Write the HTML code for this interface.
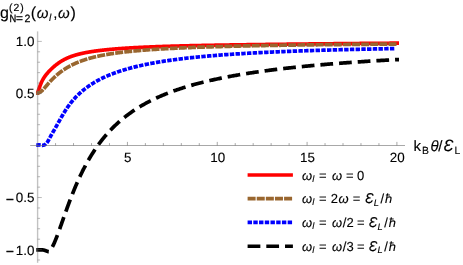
<!DOCTYPE html>
<html><head><meta charset="utf-8"><title>g2 plot</title>
<style>
html,body{margin:0;padding:0;background:#fff;}
body{width:463px;height:265px;overflow:hidden;font-family:"Liberation Sans",sans-serif;}
text{stroke:#000;stroke-width:0.12px;}
svg{display:block;font-family:"Liberation Sans",sans-serif;will-change:transform;text-rendering:geometricPrecision;}
</style></head><body>
<svg width="463" height="265" viewBox="0 0 463 265">
<rect width="463" height="265" fill="#ffffff"/>

<path d="M36.30,93.10 L37.60,93.10 L37.85,92.16 L38.10,91.31 L38.35,90.53 L38.60,89.79 L38.85,89.09 L39.10,88.40 L39.35,87.71 L39.60,87.03 L39.85,86.36 L40.10,85.69 L40.35,85.04 L40.60,84.40 L40.85,83.78 L41.10,83.18 L41.35,82.60 L41.60,82.04 L41.85,81.49 L42.10,80.97 L42.35,80.48 L42.60,80.00 L42.85,79.54 L43.10,79.10 L43.35,78.68 L43.60,78.27 L43.85,77.87 L44.10,77.48 L44.35,77.11 L44.60,76.75 L44.85,76.39 L45.10,76.04 L45.35,75.71 L45.60,75.38 L45.85,75.05 L46.10,74.73 L46.35,74.42 L46.60,74.11 L46.85,73.81 L47.10,73.51 L47.35,73.22 L47.60,72.93 L47.85,72.64 L48.10,72.36 L48.35,72.08 L48.60,71.80 L48.85,71.53 L49.10,71.26 L49.35,70.99 L49.60,70.73 L49.85,70.47 L50.10,70.21 L50.35,69.96 L50.60,69.71 L50.85,69.46 L51.10,69.22 L51.35,68.97 L51.60,68.73 L51.85,68.50 L52.10,68.26 L52.35,68.03 L52.60,67.80 L52.85,67.57 L53.10,67.35 L53.35,67.13 L53.60,66.91 L53.85,66.69 L54.10,66.48 L54.35,66.26 L54.60,66.05 L54.85,65.85 L55.10,65.64 L55.35,65.44 L55.60,65.23 L55.85,65.04 L56.10,64.84 L56.35,64.64 L56.60,64.45 L56.85,64.26 L57.10,64.07 L57.35,63.88 L57.60,63.70 L57.85,63.51 L58.10,63.33 L58.35,63.16 L58.60,62.98 L58.85,62.80 L59.10,62.63 L59.35,62.46 L59.60,62.29 L59.85,62.13 L60.10,61.96 L60.35,61.80 L60.60,61.64 L60.85,61.49 L61.10,61.33 L61.35,61.18 L61.60,61.02 L61.85,60.87 L62.10,60.73 L62.35,60.58 L62.60,60.44 L62.85,60.29 L63.10,60.15 L63.35,60.01 L63.60,59.88 L63.85,59.74 L64.10,59.61 L64.35,59.48 L64.60,59.35 L64.85,59.22 L65.10,59.09 L65.35,58.97 L65.60,58.84 L65.85,58.72 L66.10,58.60 L66.35,58.48 L66.60,58.37 L66.85,58.25 L67.10,58.14 L67.35,58.03 L67.60,57.91 L67.85,57.80 L68.10,57.70 L68.35,57.59 L68.60,57.49 L68.85,57.38 L69.10,57.28 L69.35,57.18 L69.60,57.08 L69.85,56.98 L70.10,56.88 L70.35,56.79 L70.60,56.69 L70.85,56.60 L71.10,56.51 L71.35,56.42 L71.60,56.33 L71.85,56.24 L72.10,56.15 L72.35,56.06 L72.60,55.98 L72.85,55.89 L73.10,55.81 L73.35,55.73 L73.60,55.65 L73.85,55.57 L74.10,55.49 L74.35,55.41 L74.60,55.33 L74.85,55.26 L75.10,55.18 L75.35,55.11 L75.60,55.03 L75.85,54.96 L76.10,54.89 L76.35,54.82 L76.60,54.75 L76.85,54.68 L77.10,54.61 L77.35,54.54 L77.60,54.47 L77.85,54.41 L78.10,54.34 L78.35,54.28 L78.60,54.21 L78.85,54.15 L79.10,54.09 L79.35,54.02 L79.60,53.96 L79.85,53.90 L80.10,53.84 L80.35,53.78 L80.60,53.72 L80.85,53.66 L81.10,53.61 L81.35,53.55 L81.60,53.49 L81.85,53.44 L82.10,53.38 L82.35,53.32 L82.60,53.27 L82.85,53.22 L83.10,53.16 L83.35,53.11 L83.60,53.06 L83.85,53.01 L84.10,52.95 L84.35,52.90 L84.60,52.85 L84.85,52.80 L85.10,52.75 L85.35,52.71 L85.60,52.66 L85.85,52.61 L86.10,52.56 L86.35,52.51 L86.60,52.47 L86.85,52.42 L87.10,52.38 L87.35,52.33 L87.60,52.28 L87.85,52.24 L88.10,52.20 L88.35,52.15 L88.60,52.11 L88.85,52.07 L89.10,52.02 L89.35,51.98 L89.60,51.94 L89.85,51.90 L90.10,51.86 L90.35,51.81 L90.60,51.77 L90.85,51.73 L91.10,51.69 L91.35,51.65 L91.60,51.61 L91.85,51.58 L92.10,51.54 L92.35,51.50 L92.60,51.46 L92.85,51.42 L93.10,51.39 L93.35,51.35 L93.60,51.31 L93.85,51.28 L94.10,51.24 L94.35,51.20 L94.60,51.17 L94.85,51.13 L95.10,51.10 L95.35,51.06 L95.60,51.03 L95.85,50.99 L96.10,50.96 L96.35,50.93 L96.60,50.89 L96.85,50.86 L97.10,50.83 L97.35,50.79 L97.60,50.76 L97.85,50.73 L98.10,50.70 L98.35,50.67 L98.60,50.63 L98.85,50.60 L99.10,50.57 L99.35,50.54 L99.60,50.51 L99.85,50.48 L100.10,50.45 L100.35,50.42 L100.60,50.39 L100.85,50.36 L101.10,50.33 L101.35,50.30 L101.60,50.27 L101.85,50.24 L102.10,50.22 L102.35,50.19 L102.60,50.16 L102.85,50.13 L103.10,50.10 L103.35,50.08 L103.60,50.05 L103.85,50.02 L104.10,49.99 L104.35,49.97 L104.60,49.94 L104.85,49.91 L105.10,49.89 L105.35,49.86 L105.60,49.84 L105.85,49.81 L106.10,49.79 L106.35,49.76 L106.60,49.73 L106.85,49.71 L107.10,49.68 L107.35,49.66 L107.60,49.63 L107.85,49.61 L108.10,49.59 L108.35,49.56 L108.60,49.54 L108.85,49.51 L109.10,49.49 L109.35,49.47 L109.60,49.44 L109.85,49.42 L110.10,49.40 L110.35,49.37 L110.60,49.35 L110.85,49.33 L111.10,49.31 L111.35,49.28 L111.60,49.26 L111.85,49.24 L112.10,49.22 L112.35,49.20 L112.60,49.17 L112.85,49.15 L113.10,49.13 L113.35,49.11 L113.60,49.09 L113.85,49.07 L114.10,49.05 L114.35,49.02 L114.60,49.00 L114.85,48.98 L115.10,48.96 L115.35,48.94 L115.60,48.92 L115.85,48.90 L116.10,48.88 L116.35,48.86 L116.60,48.84 L116.85,48.82 L117.10,48.80 L117.35,48.78 L117.60,48.76 L117.85,48.75 L118.10,48.73 L118.35,48.71 L118.60,48.69 L118.85,48.67 L119.10,48.65 L119.35,48.63 L119.60,48.61 L119.85,48.60 L120.10,48.58 L120.35,48.56 L120.60,48.54 L120.85,48.52 L121.10,48.50 L121.35,48.49 L121.60,48.47 L121.85,48.45 L122.10,48.43 L122.35,48.42 L122.60,48.40 L122.85,48.38 L123.10,48.37 L123.35,48.35 L123.60,48.33 L123.85,48.31 L124.10,48.30 L124.35,48.28 L124.60,48.26 L124.85,48.25 L125.10,48.23 L125.35,48.22 L125.60,48.20 L125.85,48.18 L126.10,48.17 L126.35,48.15 L126.60,48.13 L126.85,48.12 L127.10,48.10 L127.35,48.09 L127.60,48.07 L127.85,48.06 L128.10,48.04 L128.35,48.03 L128.60,48.01 L128.85,48.00 L129.10,47.98 L129.35,47.97 L129.60,47.95 L129.85,47.94 L130.00,47.93 L131.00,47.87 L132.00,47.81 L133.00,47.75 L134.00,47.70 L135.00,47.64 L136.00,47.59 L137.00,47.54 L138.00,47.49 L139.00,47.44 L140.00,47.39 L141.00,47.34 L142.00,47.29 L143.00,47.25 L144.00,47.20 L145.00,47.15 L146.00,47.11 L147.00,47.07 L148.00,47.02 L149.00,46.98 L150.00,46.94 L151.00,46.90 L152.00,46.86 L153.00,46.82 L154.00,46.78 L155.00,46.74 L156.00,46.71 L157.00,46.67 L158.00,46.63 L159.00,46.60 L160.00,46.56 L161.00,46.53 L162.00,46.49 L163.00,46.46 L164.00,46.43 L165.00,46.39 L166.00,46.36 L167.00,46.33 L168.00,46.30 L169.00,46.27 L170.00,46.24 L171.00,46.21 L172.00,46.18 L173.00,46.15 L174.00,46.12 L175.00,46.09 L176.00,46.07 L177.00,46.04 L178.00,46.01 L179.00,45.99 L180.00,45.96 L181.00,45.93 L182.00,45.91 L183.00,45.88 L184.00,45.86 L185.00,45.83 L186.00,45.81 L187.00,45.78 L188.00,45.76 L189.00,45.74 L190.00,45.71 L191.00,45.69 L192.00,45.67 L193.00,45.65 L194.00,45.63 L195.00,45.60 L196.00,45.58 L197.00,45.56 L198.00,45.54 L199.00,45.52 L200.00,45.50 L201.00,45.48 L202.00,45.46 L203.00,45.44 L204.00,45.42 L205.00,45.40 L206.00,45.38 L207.00,45.36 L208.00,45.34 L209.00,45.33 L210.00,45.31 L211.00,45.29 L212.00,45.27 L213.00,45.25 L214.00,45.24 L215.00,45.22 L216.00,45.20 L217.00,45.18 L218.00,45.17 L219.00,45.15 L220.00,45.13 L221.00,45.12 L222.00,45.10 L223.00,45.08 L224.00,45.07 L225.00,45.05 L226.00,45.04 L227.00,45.02 L228.00,45.00 L229.00,44.99 L230.00,44.97 L231.00,44.96 L232.00,44.94 L233.00,44.93 L234.00,44.91 L235.00,44.90 L236.00,44.88 L237.00,44.87 L238.00,44.85 L239.00,44.84 L240.00,44.82 L241.00,44.81 L242.00,44.79 L243.00,44.78 L244.00,44.77 L245.00,44.75 L246.00,44.74 L247.00,44.72 L248.00,44.71 L249.00,44.70 L250.00,44.68 L251.00,44.67 L252.00,44.66 L253.00,44.64 L254.00,44.63 L255.00,44.61 L256.00,44.60 L257.00,44.59 L258.00,44.57 L259.00,44.56 L260.00,44.55 L261.00,44.54 L262.00,44.52 L263.00,44.51 L264.00,44.50 L265.00,44.48 L266.00,44.47 L267.00,44.46 L268.00,44.45 L269.00,44.43 L270.00,44.42 L271.00,44.41 L272.00,44.40 L273.00,44.38 L274.00,44.37 L275.00,44.36 L276.00,44.35 L277.00,44.34 L278.00,44.32 L279.00,44.31 L280.00,44.30 L281.00,44.29 L282.00,44.28 L283.00,44.26 L284.00,44.25 L285.00,44.24 L286.00,44.23 L287.00,44.22 L288.00,44.20 L289.00,44.19 L290.00,44.18 L291.00,44.17 L292.00,44.16 L293.00,44.15 L294.00,44.14 L295.00,44.13 L296.00,44.11 L297.00,44.10 L298.00,44.09 L299.00,44.08 L300.00,44.07 L301.00,44.06 L302.00,44.05 L303.00,44.04 L304.00,44.03 L305.00,44.01 L306.00,44.00 L307.00,43.99 L308.00,43.98 L309.00,43.97 L310.00,43.96 L311.00,43.95 L312.00,43.94 L313.00,43.93 L314.00,43.92 L315.00,43.91 L316.00,43.90 L317.00,43.89 L318.00,43.88 L319.00,43.87 L320.00,43.86 L321.00,43.85 L322.00,43.84 L323.00,43.83 L324.00,43.82 L325.00,43.81 L326.00,43.80 L327.00,43.79 L328.00,43.78 L329.00,43.77 L330.00,43.76 L331.00,43.75 L332.00,43.74 L333.00,43.73 L334.00,43.72 L335.00,43.71 L336.00,43.70 L337.00,43.69 L338.00,43.68 L339.00,43.67 L340.00,43.66 L341.00,43.65 L342.00,43.64 L343.00,43.63 L344.00,43.62 L345.00,43.61 L346.00,43.60 L347.00,43.59 L348.00,43.58 L349.00,43.57 L350.00,43.57 L351.00,43.56 L352.00,43.55 L353.00,43.54 L354.00,43.53 L355.00,43.52 L356.00,43.51 L357.00,43.50 L358.00,43.49 L359.00,43.48 L360.00,43.47 L361.00,43.47 L362.00,43.46 L363.00,43.45 L364.00,43.44 L365.00,43.43 L366.00,43.42 L367.00,43.41 L368.00,43.40 L369.00,43.40 L370.00,43.39 L371.00,43.38 L372.00,43.37 L373.00,43.36 L374.00,43.35 L375.00,43.34 L376.00,43.34 L377.00,43.33 L378.00,43.32 L379.00,43.31 L380.00,43.30 L381.00,43.29 L382.00,43.29 L383.00,43.28 L384.00,43.27 L385.00,43.26 L386.00,43.25 L387.00,43.24 L388.00,43.24 L389.00,43.23 L390.00,43.22 L391.00,43.21 L392.00,43.20 L393.00,43.20 L394.00,43.19 L395.00,43.18 L396.00,43.17 L397.00,43.16 L398.00,43.16 L399.00,43.16" fill="none" stroke="#ff0000" stroke-width="3.7"/>
<path d="M36.30,93.10 L37.60,93.10 L37.85,93.11 L38.10,93.07 L38.35,92.99 L38.60,92.89 L38.85,92.76 L39.10,92.63 L39.35,92.50 L39.60,92.36 L39.85,92.21 L40.10,92.06 L40.35,91.90 L40.60,91.73 L40.85,91.56 L41.10,91.37 L41.35,91.18 L41.60,90.98 L41.85,90.76 L42.10,90.54 L42.35,90.30 L42.60,90.06 L42.85,89.81 L43.10,89.55 L43.35,89.28 L43.60,89.01 L43.85,88.74 L44.10,88.46 L44.35,88.18 L44.60,87.89 L44.85,87.61 L45.10,87.32 L45.35,87.03 L45.60,86.73 L45.85,86.44 L46.10,86.15 L46.35,85.86 L46.60,85.57 L46.85,85.28 L47.10,84.98 L47.35,84.69 L47.60,84.41 L47.85,84.12 L48.10,83.83 L48.35,83.55 L48.60,83.27 L48.85,82.98 L49.10,82.70 L49.35,82.43 L49.60,82.15 L49.85,81.88 L50.10,81.60 L50.35,81.33 L50.60,81.06 L50.85,80.80 L51.10,80.53 L51.35,80.27 L51.60,80.01 L51.85,79.75 L52.10,79.50 L52.35,79.24 L52.60,78.99 L52.85,78.74 L53.10,78.49 L53.35,78.24 L53.60,78.00 L53.85,77.76 L54.10,77.52 L54.35,77.28 L54.60,77.05 L54.85,76.81 L55.10,76.58 L55.35,76.35 L55.60,76.12 L55.85,75.90 L56.10,75.67 L56.35,75.45 L56.60,75.23 L56.85,75.02 L57.10,74.80 L57.35,74.59 L57.60,74.38 L57.85,74.17 L58.10,73.96 L58.35,73.75 L58.60,73.55 L58.85,73.35 L59.10,73.15 L59.35,72.95 L59.60,72.75 L59.85,72.56 L60.10,72.37 L60.35,72.18 L60.60,71.99 L60.85,71.80 L61.10,71.61 L61.35,71.43 L61.60,71.25 L61.85,71.07 L62.10,70.89 L62.35,70.71 L62.60,70.54 L62.85,70.36 L63.10,70.19 L63.35,70.02 L63.60,69.85 L63.85,69.68 L64.10,69.52 L64.35,69.35 L64.60,69.19 L64.85,69.03 L65.10,68.87 L65.35,68.71 L65.60,68.55 L65.85,68.39 L66.10,68.24 L66.35,68.09 L66.60,67.93 L66.85,67.78 L67.10,67.63 L67.35,67.49 L67.60,67.34 L67.85,67.19 L68.10,67.05 L68.35,66.91 L68.60,66.77 L68.85,66.63 L69.10,66.49 L69.35,66.35 L69.60,66.21 L69.85,66.08 L70.10,65.94 L70.35,65.81 L70.60,65.68 L70.85,65.55 L71.10,65.42 L71.35,65.29 L71.60,65.16 L71.85,65.03 L72.10,64.91 L72.35,64.78 L72.60,64.66 L72.85,64.54 L73.10,64.42 L73.35,64.30 L73.60,64.18 L73.85,64.06 L74.10,63.94 L74.35,63.83 L74.60,63.71 L74.85,63.60 L75.10,63.48 L75.35,63.37 L75.60,63.26 L75.85,63.15 L76.10,63.04 L76.35,62.93 L76.60,62.83 L76.85,62.72 L77.10,62.61 L77.35,62.51 L77.60,62.40 L77.85,62.30 L78.10,62.20 L78.35,62.10 L78.60,62.00 L78.85,61.90 L79.10,61.80 L79.35,61.70 L79.60,61.60 L79.85,61.51 L80.10,61.41 L80.35,61.32 L80.60,61.22 L80.85,61.13 L81.10,61.04 L81.35,60.94 L81.60,60.85 L81.85,60.76 L82.10,60.67 L82.35,60.58 L82.60,60.50 L82.85,60.41 L83.10,60.32 L83.35,60.24 L83.60,60.15 L83.85,60.07 L84.10,59.98 L84.35,59.90 L84.60,59.82 L84.85,59.73 L85.10,59.65 L85.35,59.57 L85.60,59.49 L85.85,59.41 L86.10,59.33 L86.35,59.26 L86.60,59.18 L86.85,59.10 L87.10,59.02 L87.35,58.95 L87.60,58.87 L87.85,58.80 L88.10,58.73 L88.35,58.65 L88.60,58.58 L88.85,58.51 L89.10,58.44 L89.35,58.36 L89.60,58.29 L89.85,58.22 L90.10,58.15 L90.35,58.08 L90.60,58.02 L90.85,57.95 L91.10,57.88 L91.35,57.81 L91.60,57.75 L91.85,57.68 L92.10,57.62 L92.35,57.55 L92.60,57.49 L92.85,57.42 L93.10,57.36 L93.35,57.30 L93.60,57.23 L93.85,57.17 L94.10,57.11 L94.35,57.05 L94.60,56.99 L94.85,56.93 L95.10,56.87 L95.35,56.81 L95.60,56.75 L95.85,56.69 L96.10,56.63 L96.35,56.57 L96.60,56.52 L96.85,56.46 L97.10,56.40 L97.35,56.35 L97.60,56.29 L97.85,56.23 L98.10,56.18 L98.35,56.12 L98.60,56.07 L98.85,56.02 L99.10,55.96 L99.35,55.91 L99.60,55.86 L99.85,55.80 L100.10,55.75 L100.35,55.70 L100.60,55.65 L100.85,55.60 L101.10,55.55 L101.35,55.50 L101.60,55.45 L101.85,55.40 L102.10,55.35 L102.35,55.30 L102.60,55.25 L102.85,55.20 L103.10,55.16 L103.35,55.11 L103.60,55.06 L103.85,55.01 L104.10,54.97 L104.35,54.92 L104.60,54.87 L104.85,54.83 L105.10,54.78 L105.35,54.74 L105.60,54.69 L105.85,54.65 L106.10,54.60 L106.35,54.56 L106.60,54.52 L106.85,54.47 L107.10,54.43 L107.35,54.39 L107.60,54.34 L107.85,54.30 L108.10,54.26 L108.35,54.22 L108.60,54.18 L108.85,54.14 L109.10,54.09 L109.35,54.05 L109.60,54.01 L109.85,53.97 L110.10,53.93 L110.35,53.89 L110.60,53.85 L110.85,53.81 L111.10,53.78 L111.35,53.74 L111.60,53.70 L111.85,53.66 L112.10,53.62 L112.35,53.58 L112.60,53.55 L112.85,53.51 L113.10,53.47 L113.35,53.44 L113.60,53.40 L113.85,53.36 L114.10,53.33 L114.35,53.29 L114.60,53.25 L114.85,53.22 L115.10,53.18 L115.35,53.15 L115.60,53.11 L115.85,53.08 L116.10,53.04 L116.35,53.01 L116.60,52.98 L116.85,52.94 L117.10,52.91 L117.35,52.87 L117.60,52.84 L117.85,52.81 L118.10,52.78 L118.35,52.74 L118.60,52.71 L118.85,52.68 L119.10,52.65 L119.35,52.61 L119.60,52.58 L119.85,52.55 L120.10,52.52 L120.35,52.49 L120.60,52.46 L120.85,52.42 L121.10,52.39 L121.35,52.36 L121.60,52.33 L121.85,52.30 L122.10,52.27 L122.35,52.24 L122.60,52.21 L122.85,52.18 L123.10,52.15 L123.35,52.12 L123.60,52.09 L123.85,52.07 L124.10,52.04 L124.35,52.01 L124.60,51.98 L124.85,51.95 L125.10,51.92 L125.35,51.89 L125.60,51.87 L125.85,51.84 L126.10,51.81 L126.35,51.78 L126.60,51.76 L126.85,51.73 L127.10,51.70 L127.35,51.67 L127.60,51.65 L127.85,51.62 L128.10,51.59 L128.35,51.57 L128.60,51.54 L128.85,51.52 L129.10,51.49 L129.35,51.46 L129.60,51.44 L129.85,51.41 L130.00,51.40 L131.00,51.30 L132.00,51.20 L133.00,51.10 L134.00,51.00 L135.00,50.91 L136.00,50.82 L137.00,50.73 L138.00,50.64 L139.00,50.55 L140.00,50.47 L141.00,50.38 L142.00,50.30 L143.00,50.22 L144.00,50.14 L145.00,50.06 L146.00,49.99 L147.00,49.91 L148.00,49.84 L149.00,49.77 L150.00,49.70 L151.00,49.62 L152.00,49.56 L153.00,49.49 L154.00,49.42 L155.00,49.35 L156.00,49.29 L157.00,49.23 L158.00,49.16 L159.00,49.10 L160.00,49.04 L161.00,48.98 L162.00,48.92 L163.00,48.86 L164.00,48.81 L165.00,48.75 L166.00,48.69 L167.00,48.64 L168.00,48.58 L169.00,48.53 L170.00,48.48 L171.00,48.43 L172.00,48.38 L173.00,48.33 L174.00,48.28 L175.00,48.23 L176.00,48.18 L177.00,48.13 L178.00,48.08 L179.00,48.04 L180.00,47.99 L181.00,47.95 L182.00,47.90 L183.00,47.86 L184.00,47.81 L185.00,47.77 L186.00,47.73 L187.00,47.69 L188.00,47.65 L189.00,47.61 L190.00,47.57 L191.00,47.53 L192.00,47.49 L193.00,47.45 L194.00,47.41 L195.00,47.37 L196.00,47.33 L197.00,47.30 L198.00,47.26 L199.00,47.22 L200.00,47.19 L201.00,47.15 L202.00,47.12 L203.00,47.08 L204.00,47.05 L205.00,47.02 L206.00,46.98 L207.00,46.95 L208.00,46.92 L209.00,46.89 L210.00,46.85 L211.00,46.82 L212.00,46.79 L213.00,46.76 L214.00,46.73 L215.00,46.70 L216.00,46.67 L217.00,46.64 L218.00,46.61 L219.00,46.58 L220.00,46.55 L221.00,46.53 L222.00,46.50 L223.00,46.47 L224.00,46.44 L225.00,46.42 L226.00,46.39 L227.00,46.36 L228.00,46.34 L229.00,46.31 L230.00,46.29 L231.00,46.26 L232.00,46.24 L233.00,46.21 L234.00,46.19 L235.00,46.16 L236.00,46.14 L237.00,46.12 L238.00,46.09 L239.00,46.07 L240.00,46.05 L241.00,46.02 L242.00,46.00 L243.00,45.98 L244.00,45.96 L245.00,45.93 L246.00,45.91 L247.00,45.89 L248.00,45.87 L249.00,45.85 L250.00,45.83 L251.00,45.81 L252.00,45.79 L253.00,45.77 L254.00,45.75 L255.00,45.73 L256.00,45.71 L257.00,45.69 L258.00,45.67 L259.00,45.65 L260.00,45.63 L261.00,45.61 L262.00,45.59 L263.00,45.57 L264.00,45.56 L265.00,45.54 L266.00,45.52 L267.00,45.50 L268.00,45.48 L269.00,45.47 L270.00,45.45 L271.00,45.43 L272.00,45.42 L273.00,45.40 L274.00,45.38 L275.00,45.37 L276.00,45.35 L277.00,45.33 L278.00,45.32 L279.00,45.30 L280.00,45.29 L281.00,45.27 L282.00,45.25 L283.00,45.24 L284.00,45.22 L285.00,45.21 L286.00,45.19 L287.00,45.18 L288.00,45.16 L289.00,45.15 L290.00,45.13 L291.00,45.12 L292.00,45.11 L293.00,45.09 L294.00,45.08 L295.00,45.06 L296.00,45.05 L297.00,45.04 L298.00,45.02 L299.00,45.01 L300.00,45.00 L301.00,44.98 L302.00,44.97 L303.00,44.96 L304.00,44.94 L305.00,44.93 L306.00,44.92 L307.00,44.91 L308.00,44.89 L309.00,44.88 L310.00,44.87 L311.00,44.86 L312.00,44.84 L313.00,44.83 L314.00,44.82 L315.00,44.81 L316.00,44.80 L317.00,44.79 L318.00,44.77 L319.00,44.76 L320.00,44.75 L321.00,44.74 L322.00,44.73 L323.00,44.72 L324.00,44.71 L325.00,44.70 L326.00,44.69 L327.00,44.67 L328.00,44.66 L329.00,44.65 L330.00,44.64 L331.00,44.63 L332.00,44.62 L333.00,44.61 L334.00,44.60 L335.00,44.59 L336.00,44.58 L337.00,44.57 L338.00,44.56 L339.00,44.55 L340.00,44.54 L341.00,44.53 L342.00,44.52 L343.00,44.51 L344.00,44.50 L345.00,44.49 L346.00,44.48 L347.00,44.48 L348.00,44.47 L349.00,44.46 L350.00,44.45 L351.00,44.44 L352.00,44.43 L353.00,44.42 L354.00,44.41 L355.00,44.40 L356.00,44.39 L357.00,44.39 L358.00,44.38 L359.00,44.37 L360.00,44.36 L361.00,44.35 L362.00,44.34 L363.00,44.34 L364.00,44.33 L365.00,44.32 L366.00,44.31 L367.00,44.30 L368.00,44.29 L369.00,44.29 L370.00,44.28 L371.00,44.27 L372.00,44.26 L373.00,44.26 L374.00,44.25 L375.00,44.24 L376.00,44.23 L377.00,44.22 L378.00,44.22 L379.00,44.21 L380.00,44.20 L381.00,44.19 L382.00,44.19 L383.00,44.18 L384.00,44.17 L385.00,44.17 L386.00,44.16 L387.00,44.15 L388.00,44.14 L389.00,44.14 L390.00,44.13 L391.00,44.12 L392.00,44.12 L393.00,44.11 L394.00,44.10 L395.00,44.10 L396.00,44.09 L397.00,44.08 L397.20,44.08" fill="none" stroke="#99662f" stroke-width="3.7" stroke-dasharray="8.01 1.11"/>
<path d="M36.30,145.10 L37.60,145.10 L37.85,144.98 L38.10,144.90 L38.35,144.86 L38.60,144.84 L38.85,144.85 L39.10,144.88 L39.35,144.91 L39.60,144.96 L39.85,145.01 L40.10,145.06 L40.35,145.12 L40.60,145.17 L40.85,145.21 L41.10,145.26 L41.35,145.29 L41.60,145.31 L41.85,145.33 L42.10,145.34 L42.35,145.33 L42.60,145.32 L42.85,145.29 L43.10,145.25 L43.35,145.19 L43.60,145.13 L43.85,145.05 L44.10,144.96 L44.35,144.86 L44.60,144.74 L44.85,144.60 L45.10,144.45 L45.35,144.27 L45.60,144.08 L45.85,143.87 L46.10,143.63 L46.35,143.37 L46.60,143.10 L46.85,142.79 L47.10,142.47 L47.35,142.13 L47.60,141.76 L47.85,141.37 L48.10,140.95 L48.35,140.53 L48.60,140.08 L48.85,139.63 L49.10,139.16 L49.35,138.69 L49.60,138.22 L49.85,137.75 L50.10,137.27 L50.35,136.80 L50.60,136.33 L50.85,135.87 L51.10,135.41 L51.35,134.96 L51.60,134.51 L51.85,134.07 L52.10,133.63 L52.35,133.20 L52.60,132.77 L52.85,132.33 L53.10,131.90 L53.35,131.48 L53.60,131.05 L53.85,130.62 L54.10,130.19 L54.35,129.76 L54.60,129.33 L54.85,128.90 L55.10,128.46 L55.35,128.03 L55.60,127.59 L55.85,127.15 L56.10,126.71 L56.35,126.26 L56.60,125.82 L56.85,125.37 L57.10,124.92 L57.35,124.47 L57.60,124.01 L57.85,123.56 L58.10,123.10 L58.35,122.65 L58.60,122.19 L58.85,121.74 L59.10,121.28 L59.35,120.83 L59.60,120.38 L59.85,119.93 L60.10,119.48 L60.35,119.03 L60.60,118.59 L60.85,118.14 L61.10,117.70 L61.35,117.26 L61.60,116.82 L61.85,116.39 L62.10,115.96 L62.35,115.53 L62.60,115.10 L62.85,114.68 L63.10,114.25 L63.35,113.84 L63.60,113.42 L63.85,113.01 L64.10,112.60 L64.35,112.20 L64.60,111.79 L64.85,111.40 L65.10,111.00 L65.35,110.61 L65.60,110.22 L65.85,109.83 L66.10,109.45 L66.35,109.07 L66.60,108.70 L66.85,108.33 L67.10,107.96 L67.35,107.59 L67.60,107.23 L67.85,106.87 L68.10,106.52 L68.35,106.17 L68.60,105.82 L68.85,105.48 L69.10,105.13 L69.35,104.80 L69.60,104.46 L69.85,104.13 L70.10,103.80 L70.35,103.48 L70.60,103.15 L70.85,102.83 L71.10,102.52 L71.35,102.21 L71.60,101.90 L71.85,101.59 L72.10,101.29 L72.35,100.99 L72.60,100.69 L72.85,100.39 L73.10,100.10 L73.35,99.81 L73.60,99.53 L73.85,99.24 L74.10,98.96 L74.35,98.69 L74.60,98.41 L74.85,98.14 L75.10,97.87 L75.35,97.60 L75.60,97.33 L75.85,97.07 L76.10,96.81 L76.35,96.55 L76.60,96.30 L76.85,96.04 L77.10,95.79 L77.35,95.54 L77.60,95.29 L77.85,95.05 L78.10,94.81 L78.35,94.57 L78.60,94.33 L78.85,94.09 L79.10,93.86 L79.35,93.62 L79.60,93.39 L79.85,93.16 L80.10,92.94 L80.35,92.71 L80.60,92.49 L80.85,92.27 L81.10,92.05 L81.35,91.83 L81.60,91.61 L81.85,91.40 L82.10,91.18 L82.35,90.97 L82.60,90.76 L82.85,90.56 L83.10,90.35 L83.35,90.14 L83.60,89.94 L83.85,89.74 L84.10,89.54 L84.35,89.34 L84.60,89.14 L84.85,88.95 L85.10,88.75 L85.35,88.56 L85.60,88.37 L85.85,88.18 L86.10,87.99 L86.35,87.80 L86.60,87.62 L86.85,87.43 L87.10,87.25 L87.35,87.07 L87.60,86.89 L87.85,86.71 L88.10,86.53 L88.35,86.35 L88.60,86.18 L88.85,86.00 L89.10,85.83 L89.35,85.66 L89.60,85.48 L89.85,85.31 L90.10,85.15 L90.35,84.98 L90.60,84.81 L90.85,84.65 L91.10,84.48 L91.35,84.32 L91.60,84.16 L91.85,84.00 L92.10,83.84 L92.35,83.68 L92.60,83.52 L92.85,83.37 L93.10,83.21 L93.35,83.06 L93.60,82.90 L93.85,82.75 L94.10,82.60 L94.35,82.45 L94.60,82.30 L94.85,82.15 L95.10,82.01 L95.35,81.86 L95.60,81.71 L95.85,81.57 L96.10,81.43 L96.35,81.28 L96.60,81.14 L96.85,81.00 L97.10,80.86 L97.35,80.72 L97.60,80.59 L97.85,80.45 L98.10,80.31 L98.35,80.18 L98.60,80.05 L98.85,79.91 L99.10,79.78 L99.35,79.65 L99.60,79.52 L99.85,79.39 L100.10,79.26 L100.35,79.13 L100.60,79.00 L100.85,78.88 L101.10,78.75 L101.35,78.63 L101.60,78.50 L101.85,78.38 L102.10,78.26 L102.35,78.14 L102.60,78.01 L102.85,77.89 L103.10,77.77 L103.35,77.66 L103.60,77.54 L103.85,77.42 L104.10,77.30 L104.35,77.19 L104.60,77.07 L104.85,76.96 L105.10,76.85 L105.35,76.73 L105.60,76.62 L105.85,76.51 L106.10,76.40 L106.35,76.29 L106.60,76.18 L106.85,76.07 L107.10,75.96 L107.35,75.86 L107.60,75.75 L107.85,75.64 L108.10,75.54 L108.35,75.43 L108.60,75.33 L108.85,75.22 L109.10,75.12 L109.35,75.02 L109.60,74.92 L109.85,74.82 L110.10,74.72 L110.35,74.62 L110.60,74.52 L110.85,74.42 L111.10,74.32 L111.35,74.22 L111.60,74.12 L111.85,74.03 L112.10,73.93 L112.35,73.84 L112.60,73.74 L112.85,73.65 L113.10,73.55 L113.35,73.46 L113.60,73.36 L113.85,73.27 L114.10,73.18 L114.35,73.09 L114.60,73.00 L114.85,72.91 L115.10,72.82 L115.35,72.73 L115.60,72.64 L115.85,72.55 L116.10,72.46 L116.35,72.37 L116.60,72.29 L116.85,72.20 L117.10,72.11 L117.35,72.03 L117.60,71.94 L117.85,71.86 L118.10,71.77 L118.35,71.69 L118.60,71.60 L118.85,71.52 L119.10,71.44 L119.35,71.36 L119.60,71.27 L119.85,71.19 L120.10,71.11 L120.35,71.03 L120.60,70.95 L120.85,70.87 L121.10,70.79 L121.35,70.71 L121.60,70.63 L121.85,70.55 L122.10,70.47 L122.35,70.40 L122.60,70.32 L122.85,70.24 L123.10,70.16 L123.35,70.09 L123.60,70.01 L123.85,69.94 L124.10,69.86 L124.35,69.79 L124.60,69.71 L124.85,69.64 L125.10,69.56 L125.35,69.49 L125.60,69.42 L125.85,69.34 L126.10,69.27 L126.35,69.20 L126.60,69.13 L126.85,69.05 L127.10,68.98 L127.35,68.91 L127.60,68.84 L127.85,68.77 L128.10,68.70 L128.35,68.63 L128.60,68.56 L128.85,68.49 L129.10,68.43 L129.35,68.36 L129.60,68.29 L129.85,68.22 L130.00,68.18 L131.00,67.91 L132.00,67.65 L133.00,67.39 L134.00,67.14 L135.00,66.89 L136.00,66.65 L137.00,66.41 L138.00,66.17 L139.00,65.94 L140.00,65.71 L141.00,65.49 L142.00,65.27 L143.00,65.05 L144.00,64.84 L145.00,64.63 L146.00,64.42 L147.00,64.22 L148.00,64.02 L149.00,63.82 L150.00,63.63 L151.00,63.43 L152.00,63.25 L153.00,63.06 L154.00,62.88 L155.00,62.70 L156.00,62.52 L157.00,62.35 L158.00,62.18 L159.00,62.01 L160.00,61.84 L161.00,61.68 L162.00,61.52 L163.00,61.36 L164.00,61.20 L165.00,61.04 L166.00,60.89 L167.00,60.74 L168.00,60.59 L169.00,60.45 L170.00,60.30 L171.00,60.16 L172.00,60.02 L173.00,59.88 L174.00,59.75 L175.00,59.61 L176.00,59.48 L177.00,59.35 L178.00,59.22 L179.00,59.09 L180.00,58.97 L181.00,58.85 L182.00,58.72 L183.00,58.60 L184.00,58.49 L185.00,58.37 L186.00,58.25 L187.00,58.14 L188.00,58.03 L189.00,57.91 L190.00,57.81 L191.00,57.70 L192.00,57.59 L193.00,57.48 L194.00,57.38 L195.00,57.28 L196.00,57.18 L197.00,57.08 L198.00,56.98 L199.00,56.88 L200.00,56.78 L201.00,56.69 L202.00,56.59 L203.00,56.50 L204.00,56.41 L205.00,56.32 L206.00,56.23 L207.00,56.14 L208.00,56.05 L209.00,55.96 L210.00,55.88 L211.00,55.79 L212.00,55.71 L213.00,55.63 L214.00,55.55 L215.00,55.47 L216.00,55.39 L217.00,55.31 L218.00,55.23 L219.00,55.15 L220.00,55.08 L221.00,55.00 L222.00,54.93 L223.00,54.85 L224.00,54.78 L225.00,54.71 L226.00,54.64 L227.00,54.57 L228.00,54.50 L229.00,54.43 L230.00,54.36 L231.00,54.29 L232.00,54.23 L233.00,54.16 L234.00,54.10 L235.00,54.03 L236.00,53.97 L237.00,53.90 L238.00,53.84 L239.00,53.78 L240.00,53.72 L241.00,53.66 L242.00,53.60 L243.00,53.54 L244.00,53.48 L245.00,53.42 L246.00,53.36 L247.00,53.31 L248.00,53.25 L249.00,53.19 L250.00,53.14 L251.00,53.08 L252.00,53.03 L253.00,52.98 L254.00,52.92 L255.00,52.87 L256.00,52.82 L257.00,52.77 L258.00,52.72 L259.00,52.66 L260.00,52.61 L261.00,52.56 L262.00,52.52 L263.00,52.47 L264.00,52.42 L265.00,52.37 L266.00,52.32 L267.00,52.28 L268.00,52.23 L269.00,52.18 L270.00,52.14 L271.00,52.09 L272.00,52.05 L273.00,52.00 L274.00,51.96 L275.00,51.92 L276.00,51.87 L277.00,51.83 L278.00,51.79 L279.00,51.75 L280.00,51.70 L281.00,51.66 L282.00,51.62 L283.00,51.58 L284.00,51.54 L285.00,51.50 L286.00,51.46 L287.00,51.42 L288.00,51.38 L289.00,51.34 L290.00,51.31 L291.00,51.27 L292.00,51.23 L293.00,51.19 L294.00,51.16 L295.00,51.12 L296.00,51.08 L297.00,51.05 L298.00,51.01 L299.00,50.98 L300.00,50.94 L301.00,50.91 L302.00,50.87 L303.00,50.84 L304.00,50.80 L305.00,50.77 L306.00,50.74 L307.00,50.70 L308.00,50.67 L309.00,50.64 L310.00,50.61 L311.00,50.57 L312.00,50.54 L313.00,50.51 L314.00,50.48 L315.00,50.45 L316.00,50.42 L317.00,50.39 L318.00,50.36 L319.00,50.33 L320.00,50.30 L321.00,50.27 L322.00,50.24 L323.00,50.21 L324.00,50.18 L325.00,50.15 L326.00,50.12 L327.00,50.09 L328.00,50.07 L329.00,50.04 L330.00,50.01 L331.00,49.98 L332.00,49.96 L333.00,49.93 L334.00,49.90 L335.00,49.87 L336.00,49.85 L337.00,49.82 L338.00,49.80 L339.00,49.77 L340.00,49.74 L341.00,49.72 L342.00,49.69 L343.00,49.67 L344.00,49.64 L345.00,49.62 L346.00,49.59 L347.00,49.57 L348.00,49.54 L349.00,49.52 L350.00,49.50 L351.00,49.47 L352.00,49.45 L353.00,49.43 L354.00,49.40 L355.00,49.38 L356.00,49.36 L357.00,49.33 L358.00,49.31 L359.00,49.29 L360.00,49.27 L361.00,49.24 L362.00,49.22 L363.00,49.20 L364.00,49.18 L365.00,49.16 L366.00,49.14 L367.00,49.11 L368.00,49.09 L369.00,49.07 L370.00,49.05 L371.00,49.03 L372.00,49.01 L373.00,48.99 L374.00,48.97 L375.00,48.95 L376.00,48.93 L377.00,48.91 L378.00,48.89 L379.00,48.87 L380.00,48.85 L381.00,48.83 L382.00,48.81 L383.00,48.79 L384.00,48.77 L385.00,48.75 L386.00,48.73 L387.00,48.72 L388.00,48.70 L389.00,48.68 L390.00,48.66 L391.00,48.64 L392.00,48.62 L393.00,48.61 L394.00,48.59 L394.30,48.58" fill="none" stroke="#0000ff" stroke-width="3.7" stroke-dasharray="4.41 1.312"/>
<path d="M36.30,249.85 L36.50,249.85 L36.70,249.85 L36.90,249.85 L37.10,249.85 L37.30,249.85 L37.50,249.85 L37.70,249.85 L37.90,249.85 L38.10,249.85 L38.30,249.85 L38.50,249.85 L38.70,249.85 L38.90,249.85 L39.10,249.85 L39.30,249.85 L39.50,249.85 L39.70,249.85 L39.90,249.85 L40.10,249.85 L40.30,249.85 L40.50,249.85 L40.70,249.85 L40.90,249.85 L41.10,249.85 L41.30,249.85 L41.50,249.85 L41.70,249.85 L41.90,249.86 L42.10,249.87 L42.30,249.88 L42.50,249.90 L42.70,249.92 L42.90,249.94 L43.10,249.96 L43.30,249.99 L43.50,250.03 L43.70,250.08 L43.90,250.13 L44.10,250.19 L44.30,250.24 L44.50,250.30 L44.70,250.36 L44.90,250.42 L45.10,250.49 L45.30,250.55 L45.50,250.62 L45.70,250.69 L45.90,250.76 L46.10,250.84 L46.30,250.91 L46.50,250.99 L46.70,251.07 L46.90,251.14 L47.10,251.22 L47.30,251.29 L47.50,251.35 L47.70,251.41 L47.90,251.48 L48.10,251.55 L48.30,251.61 L48.50,251.65 L48.70,251.69 L48.90,251.70 L49.10,251.68 L49.30,251.63 L49.50,251.55 L49.70,251.45 L49.90,251.28 L50.10,251.01 L50.30,250.70 L50.50,250.31 L50.70,249.84 L50.90,249.40 L51.10,249.02 L51.30,248.65 L51.50,248.30 L51.70,247.97 L51.90,247.66 L52.10,247.37 L52.15,247.30 L52.40,246.85 L52.65,246.38 L52.90,245.89 L53.15,245.39 L53.40,244.87 L53.65,244.34 L53.90,243.80 L54.15,243.24 L54.40,242.67 L54.65,242.09 L54.90,241.50 L55.15,240.90 L55.40,240.30 L55.65,239.68 L55.90,239.05 L56.15,238.42 L56.40,237.78 L56.65,237.13 L56.90,236.48 L57.15,235.82 L57.40,235.16 L57.65,234.49 L57.90,233.82 L58.15,233.14 L58.40,232.46 L58.65,231.78 L58.90,231.09 L59.15,230.40 L59.40,229.70 L59.65,229.01 L59.90,228.31 L60.15,227.61 L60.40,226.91 L60.65,226.21 L60.90,225.50 L61.15,224.80 L61.40,224.09 L61.65,223.38 L61.90,222.67 L62.15,221.97 L62.40,221.26 L62.65,220.55 L62.90,219.84 L63.15,219.14 L63.40,218.43 L63.65,217.72 L63.90,217.01 L64.15,216.31 L64.40,215.60 L64.65,214.90 L64.90,214.20 L65.15,213.50 L65.40,212.80 L65.65,212.10 L65.90,211.40 L66.15,210.70 L66.40,210.01 L66.65,209.32 L66.90,208.63 L67.15,207.94 L67.40,207.25 L67.65,206.57 L67.90,205.89 L68.15,205.21 L68.40,204.53 L68.65,203.85 L68.90,203.18 L69.15,202.51 L69.40,201.84 L69.65,201.18 L69.90,200.52 L70.15,199.86 L70.40,199.20 L70.65,198.55 L70.90,197.90 L71.15,197.25 L71.40,196.61 L71.65,195.97 L71.90,195.33 L72.15,194.70 L72.40,194.06 L72.65,193.44 L72.90,192.81 L73.15,192.19 L73.40,191.57 L73.65,190.95 L73.90,190.34 L74.15,189.73 L74.40,189.13 L74.65,188.52 L74.90,187.92 L75.15,187.33 L75.40,186.73 L75.65,186.14 L75.90,185.56 L76.15,184.98 L76.40,184.40 L76.65,183.82 L76.90,183.24 L77.15,182.67 L77.40,182.11 L77.65,181.54 L77.90,180.98 L78.15,180.43 L78.40,179.87 L78.65,179.32 L78.90,178.77 L79.15,178.23 L79.40,177.69 L79.65,177.15 L79.90,176.61 L80.15,176.08 L80.40,175.55 L80.65,175.03 L80.90,174.51 L81.15,173.99 L81.40,173.47 L81.65,172.96 L81.90,172.45 L82.15,171.94 L82.40,171.44 L82.65,170.93 L82.90,170.44 L83.15,169.94 L83.40,169.45 L83.65,168.96 L83.90,168.47 L84.15,167.99 L84.40,167.51 L84.65,167.03 L84.90,166.56 L85.15,166.09 L85.40,165.62 L85.65,165.15 L85.90,164.69 L86.15,164.23 L86.40,163.77 L86.65,163.31 L86.90,162.86 L87.15,162.41 L87.40,161.96 L87.65,161.52 L87.90,161.08 L88.15,160.64 L88.40,160.20 L88.65,159.77 L88.90,159.34 L89.15,158.91 L89.40,158.48 L89.65,158.06 L89.90,157.64 L90.15,157.22 L90.40,156.80 L90.65,156.39 L90.90,155.98 L91.15,155.57 L91.40,155.16 L91.65,154.76 L91.90,154.35 L92.15,153.96 L92.40,153.56 L92.65,153.16 L92.90,152.77 L93.15,152.38 L93.40,151.99 L93.65,151.61 L93.90,151.23 L94.15,150.84 L94.40,150.47 L94.65,150.09 L94.90,149.72 L95.15,149.34 L95.40,148.97 L95.65,148.61 L95.90,148.24 L96.15,147.88 L96.40,147.52 L96.65,147.16 L96.90,146.80 L97.15,146.44 L97.40,146.09 L97.65,145.74 L97.90,145.39 L98.15,145.04 L98.40,144.70 L98.65,144.36 L98.90,144.02 L99.15,143.68 L99.40,143.34 L99.65,143.00 L99.90,142.67 L100.15,142.34 L100.40,142.01 L100.65,141.68 L100.90,141.36 L101.15,141.03 L101.40,140.71 L101.65,140.39 L101.90,140.07 L102.15,139.75 L102.40,139.44 L102.65,139.13 L102.90,138.82 L103.15,138.51 L103.40,138.20 L103.65,137.89 L103.90,137.59 L104.15,137.28 L104.40,136.98 L104.65,136.68 L104.90,136.39 L105.15,136.09 L105.40,135.79 L105.65,135.50 L105.90,135.21 L106.15,134.92 L106.40,134.63 L106.65,134.35 L106.90,134.06 L107.15,133.78 L107.40,133.50 L107.65,133.21 L107.90,132.94 L108.15,132.66 L108.40,132.38 L108.65,132.11 L108.90,131.84 L109.15,131.56 L109.40,131.29 L109.65,131.02 L109.90,130.76 L110.15,130.49 L110.40,130.23 L110.65,129.96 L110.90,129.70 L111.15,129.44 L111.40,129.18 L111.65,128.93 L111.90,128.67 L112.15,128.42 L112.40,128.16 L112.65,127.91 L112.90,127.66 L113.15,127.41 L113.40,127.16 L113.65,126.91 L113.90,126.67 L114.15,126.43 L114.40,126.18 L114.65,125.94 L114.90,125.70 L115.15,125.46 L115.40,125.22 L115.65,124.99 L115.90,124.75 L116.15,124.51 L116.40,124.28 L116.65,124.05 L116.90,123.82 L117.15,123.59 L117.40,123.36 L117.65,123.13 L117.90,122.91 L118.15,122.68 L118.40,122.46 L118.65,122.23 L118.90,122.01 L119.15,121.79 L119.40,121.57 L119.65,121.35 L119.90,121.14 L120.15,120.92 L120.40,120.70 L120.65,120.49 L120.90,120.28 L121.15,120.06 L121.40,119.85 L121.65,119.64 L121.90,119.43 L122.15,119.23 L122.40,119.02 L122.65,118.81 L122.90,118.61 L123.15,118.40 L123.40,118.20 L123.65,118.00 L123.90,117.80 L124.15,117.60 L124.40,117.40 L124.65,117.20 L124.90,117.00 L125.15,116.81 L125.40,116.61 L125.65,116.42 L125.90,116.22 L126.15,116.03 L126.40,115.84 L126.65,115.65 L126.90,115.46 L127.15,115.27 L127.40,115.08 L127.65,114.89 L127.90,114.71 L128.15,114.52 L128.40,114.34 L128.65,114.15 L128.90,113.97 L129.15,113.79 L129.40,113.60 L129.65,113.42 L129.90,113.24 L130.00,113.17 L131.00,112.46 L132.00,111.77 L133.00,111.08 L134.00,110.41 L135.00,109.75 L136.00,109.10 L137.00,108.47 L138.00,107.84 L139.00,107.22 L140.00,106.62 L141.00,106.03 L142.00,105.44 L143.00,104.87 L144.00,104.30 L145.00,103.74 L146.00,103.20 L147.00,102.66 L148.00,102.13 L149.00,101.61 L150.00,101.10 L151.00,100.59 L152.00,100.10 L153.00,99.61 L154.00,99.13 L155.00,98.65 L156.00,98.18 L157.00,97.73 L158.00,97.27 L159.00,96.83 L160.00,96.39 L161.00,95.95 L162.00,95.53 L163.00,95.11 L164.00,94.69 L165.00,94.28 L166.00,93.88 L167.00,93.49 L168.00,93.09 L169.00,92.71 L170.00,92.33 L171.00,91.95 L172.00,91.58 L173.00,91.22 L174.00,90.86 L175.00,90.50 L176.00,90.15 L177.00,89.81 L178.00,89.47 L179.00,89.13 L180.00,88.80 L181.00,88.47 L182.00,88.15 L183.00,87.83 L184.00,87.51 L185.00,87.20 L186.00,86.90 L187.00,86.59 L188.00,86.29 L189.00,86.00 L190.00,85.70 L191.00,85.42 L192.00,85.13 L193.00,84.85 L194.00,84.57 L195.00,84.30 L196.00,84.02 L197.00,83.76 L198.00,83.49 L199.00,83.23 L200.00,82.97 L201.00,82.71 L202.00,82.46 L203.00,82.21 L204.00,81.96 L205.00,81.72 L206.00,81.48 L207.00,81.24 L208.00,81.00 L209.00,80.77 L210.00,80.54 L211.00,80.31 L212.00,80.08 L213.00,79.86 L214.00,79.64 L215.00,79.42 L216.00,79.20 L217.00,78.99 L218.00,78.78 L219.00,78.57 L220.00,78.36 L221.00,78.16 L222.00,77.95 L223.00,77.75 L224.00,77.55 L225.00,77.36 L226.00,77.16 L227.00,76.97 L228.00,76.78 L229.00,76.59 L230.00,76.40 L231.00,76.22 L232.00,76.03 L233.00,75.85 L234.00,75.67 L235.00,75.49 L236.00,75.32 L237.00,75.14 L238.00,74.97 L239.00,74.80 L240.00,74.63 L241.00,74.46 L242.00,74.30 L243.00,74.13 L244.00,73.97 L245.00,73.81 L246.00,73.65 L247.00,73.49 L248.00,73.33 L249.00,73.17 L250.00,73.02 L251.00,72.87 L252.00,72.71 L253.00,72.56 L254.00,72.42 L255.00,72.27 L256.00,72.12 L257.00,71.98 L258.00,71.83 L259.00,71.69 L260.00,71.55 L261.00,71.41 L262.00,71.27 L263.00,71.13 L264.00,71.00 L265.00,70.86 L266.00,70.73 L267.00,70.60 L268.00,70.46 L269.00,70.33 L270.00,70.20 L271.00,70.08 L272.00,69.95 L273.00,69.82 L274.00,69.70 L275.00,69.57 L276.00,69.45 L277.00,69.33 L278.00,69.21 L279.00,69.09 L280.00,68.97 L281.00,68.85 L282.00,68.73 L283.00,68.62 L284.00,68.50 L285.00,68.39 L286.00,68.27 L287.00,68.16 L288.00,68.05 L289.00,67.94 L290.00,67.83 L291.00,67.72 L292.00,67.61 L293.00,67.50 L294.00,67.40 L295.00,67.29 L296.00,67.18 L297.00,67.08 L298.00,66.98 L299.00,66.87 L300.00,66.77 L301.00,66.67 L302.00,66.57 L303.00,66.47 L304.00,66.37 L305.00,66.27 L306.00,66.18 L307.00,66.08 L308.00,65.98 L309.00,65.89 L310.00,65.79 L311.00,65.70 L312.00,65.61 L313.00,65.51 L314.00,65.42 L315.00,65.33 L316.00,65.24 L317.00,65.15 L318.00,65.06 L319.00,64.97 L320.00,64.88 L321.00,64.79 L322.00,64.71 L323.00,64.62 L324.00,64.54 L325.00,64.45 L326.00,64.37 L327.00,64.28 L328.00,64.20 L329.00,64.12 L330.00,64.03 L331.00,63.95 L332.00,63.87 L333.00,63.79 L334.00,63.71 L335.00,63.63 L336.00,63.55 L337.00,63.47 L338.00,63.39 L339.00,63.32 L340.00,63.24 L341.00,63.16 L342.00,63.09 L343.00,63.01 L344.00,62.94 L345.00,62.86 L346.00,62.79 L347.00,62.72 L348.00,62.64 L349.00,62.57 L350.00,62.50 L351.00,62.43 L352.00,62.35 L353.00,62.28 L354.00,62.21 L355.00,62.14 L356.00,62.07 L357.00,62.00 L358.00,61.94 L359.00,61.87 L360.00,61.80 L361.00,61.73 L362.00,61.67 L363.00,61.60 L364.00,61.53 L365.00,61.47 L366.00,61.40 L367.00,61.34 L368.00,61.27 L369.00,61.21 L370.00,61.14 L371.00,61.08 L372.00,61.02 L373.00,60.96 L374.00,60.89 L375.00,60.83 L376.00,60.77 L377.00,60.71 L378.00,60.65 L379.00,60.59 L380.00,60.53 L381.00,60.47 L382.00,60.41 L383.00,60.35 L384.00,60.29 L385.00,60.23 L386.00,60.17 L387.00,60.12 L388.00,60.06 L389.00,60.00 L390.00,59.94 L391.00,59.89 L392.00,59.83 L393.00,59.78 L394.00,59.72 L395.00,59.66 L396.00,59.61 L397.00,59.56 L398.00,59.56 L399.00,59.56" fill="none" stroke-linejoin="round" stroke="#000000" stroke-width="3.7" stroke-dasharray="12.74 6.32 12.74 6.32 12.74 5.97 12.74 5.97 12.74 5.97 12.74 5.97 12.74 5.97 12.74 5.97 12.74 5.97 12.74 5.97 12.74 5.97 12.74 5.97 12.74 5.97 12.74 5.97 12.74 5.97 12.74 5.97 12.74 5.97 12.74 5.97 12.74 5.97 12.74 5.97 12.74 5.97 12.74 5.97 12.74 5.97 12.74 5.97 12.74 5.97 12.74 5.97 12.74 5.97 12.74 5.97 12.74 5.97 12.74 5.97"/>

<g stroke="#666666" stroke-opacity="0.57" stroke-width="1" fill="none"><line x1="30.2" y1="145.5" x2="405" y2="145.5"/><line x1="37.6" y1="31.4" x2="37.6" y2="262.8" stroke-opacity="0.4" stroke-width="1.4"/><line x1="55.56" y1="145.5" x2="55.56" y2="143.1"/><line x1="73.53" y1="145.5" x2="73.53" y2="143.1"/><line x1="91.50" y1="145.5" x2="91.50" y2="143.1"/><line x1="109.46" y1="145.5" x2="109.46" y2="143.1"/><line x1="127.43" y1="145.5" x2="127.43" y2="141.9"/><line x1="145.39" y1="145.5" x2="145.39" y2="143.1"/><line x1="163.35" y1="145.5" x2="163.35" y2="143.1"/><line x1="181.32" y1="145.5" x2="181.32" y2="143.1"/><line x1="199.28" y1="145.5" x2="199.28" y2="143.1"/><line x1="217.25" y1="145.5" x2="217.25" y2="141.9"/><line x1="235.22" y1="145.5" x2="235.22" y2="143.1"/><line x1="253.18" y1="145.5" x2="253.18" y2="143.1"/><line x1="271.14" y1="145.5" x2="271.14" y2="143.1"/><line x1="289.11" y1="145.5" x2="289.11" y2="143.1"/><line x1="307.08" y1="145.5" x2="307.08" y2="141.9"/><line x1="325.04" y1="145.5" x2="325.04" y2="143.1"/><line x1="343.00" y1="145.5" x2="343.00" y2="143.1"/><line x1="360.97" y1="145.5" x2="360.97" y2="143.1"/><line x1="378.94" y1="145.5" x2="378.94" y2="143.1"/><line x1="396.90" y1="145.5" x2="396.90" y2="141.9"/><line x1="37.6" y1="260.01" x2="40.1" y2="260.01" stroke-opacity="0.5" stroke-width="0.9"/><line x1="37.6" y1="249.60" x2="41.800000000000004" y2="249.60" stroke-opacity="0.5" stroke-width="0.9"/><line x1="37.6" y1="239.19" x2="40.1" y2="239.19" stroke-opacity="0.5" stroke-width="0.9"/><line x1="37.6" y1="228.78" x2="40.1" y2="228.78" stroke-opacity="0.5" stroke-width="0.9"/><line x1="37.6" y1="218.37" x2="40.1" y2="218.37" stroke-opacity="0.5" stroke-width="0.9"/><line x1="37.6" y1="207.96" x2="40.1" y2="207.96" stroke-opacity="0.5" stroke-width="0.9"/><line x1="37.6" y1="197.55" x2="41.800000000000004" y2="197.55" stroke-opacity="0.5" stroke-width="0.9"/><line x1="37.6" y1="187.14" x2="40.1" y2="187.14" stroke-opacity="0.5" stroke-width="0.9"/><line x1="37.6" y1="176.73" x2="40.1" y2="176.73" stroke-opacity="0.5" stroke-width="0.9"/><line x1="37.6" y1="166.32" x2="40.1" y2="166.32" stroke-opacity="0.5" stroke-width="0.9"/><line x1="37.6" y1="155.91" x2="40.1" y2="155.91" stroke-opacity="0.5" stroke-width="0.9"/><line x1="37.6" y1="135.09" x2="40.1" y2="135.09" stroke-opacity="0.5" stroke-width="0.9"/><line x1="37.6" y1="124.68" x2="40.1" y2="124.68" stroke-opacity="0.5" stroke-width="0.9"/><line x1="37.6" y1="114.27" x2="40.1" y2="114.27" stroke-opacity="0.5" stroke-width="0.9"/><line x1="37.6" y1="103.86" x2="40.1" y2="103.86" stroke-opacity="0.5" stroke-width="0.9"/><line x1="37.6" y1="93.45" x2="41.800000000000004" y2="93.45" stroke-opacity="0.5" stroke-width="0.9"/><line x1="37.6" y1="83.04" x2="40.1" y2="83.04" stroke-opacity="0.5" stroke-width="0.9"/><line x1="37.6" y1="72.63" x2="40.1" y2="72.63" stroke-opacity="0.5" stroke-width="0.9"/><line x1="37.6" y1="62.22" x2="40.1" y2="62.22" stroke-opacity="0.5" stroke-width="0.9"/><line x1="37.6" y1="51.81" x2="40.1" y2="51.81" stroke-opacity="0.5" stroke-width="0.9"/><line x1="37.6" y1="41.40" x2="41.800000000000004" y2="41.40" stroke-opacity="0.5" stroke-width="0.9"/></g>
<g font-size="13.4" fill="#000000"><text x="127.83" y="161.7" text-anchor="middle">5</text><text x="217.65" y="161.7" text-anchor="middle">10</text><text x="307.48" y="161.7" text-anchor="middle">15</text><text x="397.30" y="161.7" text-anchor="middle">20</text><text x="34.4" y="46.30" text-anchor="end">1.0</text><text x="34.4" y="98.35" text-anchor="end">0.5</text><text x="34.4" y="202.45" text-anchor="end">0.5</text><text x="5.9" y="203.70" style="stroke-width:0.45px">−</text><text x="34.4" y="254.50" text-anchor="end">1.0</text><text x="5.9" y="255.75" style="stroke-width:0.45px">−</text></g>
<g fill="#000000">
<text x="0.1" y="17.5" font-size="16">g</text>
<text x="8.9" y="10.9" font-size="10.4" letter-spacing="1.1" style="stroke-width:0.2px">(2)</text>
<text transform="translate(9.5,21.5) scale(0.88,1)" font-size="10.6" style="stroke-width:0.3px">N</text>
<text x="16.1" y="21.7" font-size="11.8" style="stroke-width:0.3px">=</text>
<text x="24.4" y="21.5" font-size="10.6" style="stroke-width:0.25px">2</text>
<text x="30.8" y="18.0" font-size="16">(</text>
<text x="36.65" y="17.9" font-size="15" font-style="italic">ω</text>
<text x="49.0" y="20.7" font-size="10.2" font-style="italic">l</text>
<text x="53.35" y="17.9" font-size="15">,</text>
<text x="58.0" y="17.9" font-size="15" font-style="italic">ω</text>
<text x="70.5" y="18.0" font-size="16">)</text>
</g>
<g fill="#000000">
<text x="413.5" y="150.8" font-size="15">k</text>
<text x="422.0" y="153.7" font-size="10.4">B</text>
<text x="430.5" y="150.8" font-size="15" font-style="italic">θ</text>
<text x="438.3" y="150.8" font-size="15">/</text>
<text x="443.5" y="151.0" font-size="16.4" font-style="italic">Ɛ</text>
<text x="454.6" y="153.6" font-size="10.4">L</text>
</g>
<g fill="#000000"><line x1="247.6" y1="175.0" x2="292.9" y2="175.0" stroke="#ff0000" stroke-width="3.7"/><line x1="247.6" y1="198.6" x2="292.9" y2="198.6" stroke="#99662f" stroke-width="3.7" stroke-dasharray="8.01 1.11"/><line x1="247.6" y1="222.4" x2="292.9" y2="222.4" stroke="#0000ff" stroke-width="3.7" stroke-dasharray="4.41 1.312"/><line x1="247.6" y1="246.25" x2="292.9" y2="246.25" stroke="#000000" stroke-width="3.7" stroke-dasharray="12.74 5.97"/><text x="302.0" y="179.9" font-size="13" font-style="italic">ω</text><text x="312.2" y="181.8" font-size="9.4" font-style="italic">l</text><text x="318.9" y="179.9" font-size="13">=</text><text x="332.0" y="179.9" font-size="13" font-style="italic">ω</text><text x="346.0" y="179.9" font-size="13">=</text><text x="357.0" y="179.9" font-size="13">0</text><text x="302.0" y="202.9" font-size="13" font-style="italic">ω</text><text x="312.2" y="204.8" font-size="9.4" font-style="italic">l</text><text x="318.9" y="202.9" font-size="13">=</text><text x="330.8" y="202.9" font-size="13">2</text><text x="338.6" y="202.9" font-size="13" font-style="italic">ω</text><text x="352.8" y="202.9" font-size="13">=</text><text x="365.0" y="202.9" font-size="14.2" font-style="italic">Ɛ</text><text x="373.8" y="205.5" font-size="9.4" font-style="italic">L</text><text x="380.5" y="202.9" font-size="13">/</text><text x="384.9" y="202.9" font-size="13" font-style="italic">ħ</text><text x="302.0" y="227.1" font-size="13" font-style="italic">ω</text><text x="312.2" y="229.0" font-size="9.4" font-style="italic">l</text><text x="318.9" y="227.1" font-size="13">=</text><text x="332.0" y="227.1" font-size="13" font-style="italic">ω</text><text x="342.8" y="227.1" font-size="13">/</text><text x="346.6" y="227.1" font-size="13">2</text><text x="356.9" y="227.1" font-size="13">=</text><text x="368.8" y="227.1" font-size="14.2" font-style="italic">Ɛ</text><text x="377.6" y="229.7" font-size="9.4" font-style="italic">L</text><text x="384.3" y="227.1" font-size="13">/</text><text x="388.7" y="227.1" font-size="13" font-style="italic">ħ</text><text x="302.0" y="250.6" font-size="13" font-style="italic">ω</text><text x="312.2" y="252.5" font-size="9.4" font-style="italic">l</text><text x="318.9" y="250.6" font-size="13">=</text><text x="332.0" y="250.6" font-size="13" font-style="italic">ω</text><text x="342.8" y="250.6" font-size="13">/</text><text x="346.6" y="250.6" font-size="13">3</text><text x="356.9" y="250.6" font-size="13">=</text><text x="368.8" y="250.6" font-size="14.2" font-style="italic">Ɛ</text><text x="377.6" y="253.2" font-size="9.4" font-style="italic">L</text><text x="384.3" y="250.6" font-size="13">/</text><text x="388.7" y="250.6" font-size="13" font-style="italic">ħ</text></g>
</svg>
</body></html>
